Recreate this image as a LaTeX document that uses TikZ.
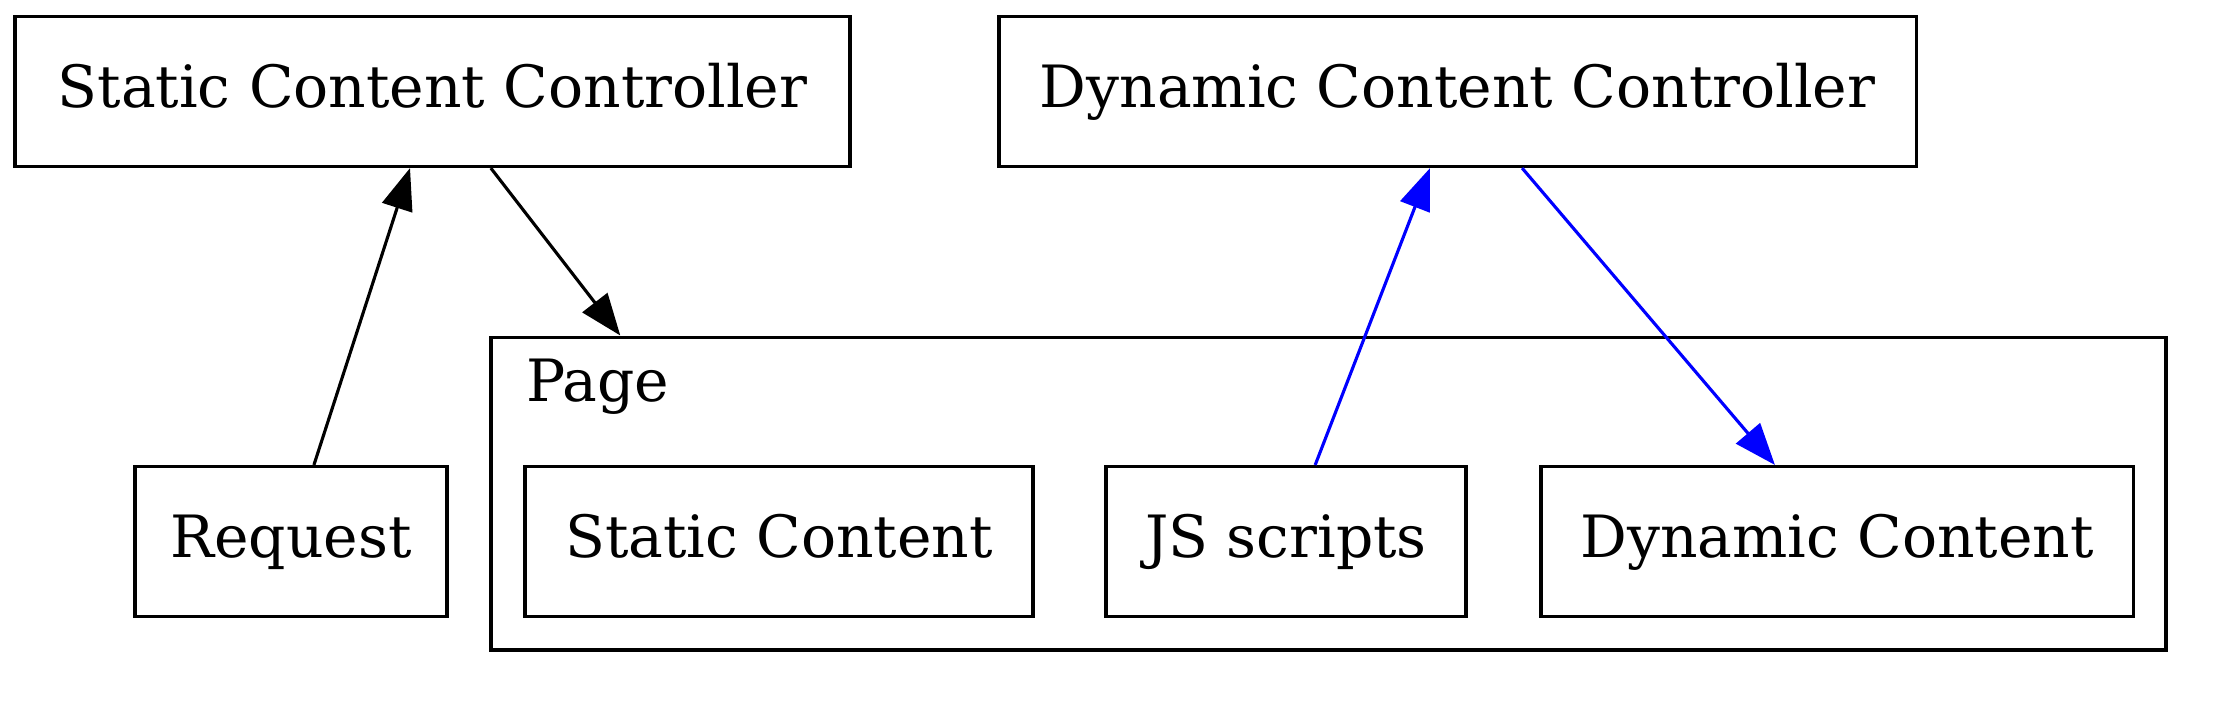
\documentclass[tikz,border=0pt]{standalone}
\usepackage{fontspec}
\setmainfont{DejaVu Serif}
\usetikzlibrary{arrows.meta,positioning}
\definecolor{edgeblue}{RGB}{0,0,255}

\begin{document}
\begin{tikzpicture}[x=0.24pt,y=-0.24pt,line width=0.75pt,line join=miter,
 every node/.style={font=\fontsize{14pt}{16pt}\selectfont},
 box/.style={draw,inner sep=0pt,minimum height=36pt,
  text height=10.9pt,text depth=3pt},
 link/.style={-{Triangle[length=10pt,width=7.5pt]}}]
 \useasboundingbox (0,0) rectangle (2217,700);
 % Controllers on top.
 \node[box,minimum width=200.4pt] (scc) at (432.5,91.5) {Static Content Controller};
 \node[box,minimum width=220.1pt] (dcc) at (1457.5,91.5) {Dynamic Content Controller};
 % Request and the Page cluster below.
 \node[box,minimum width=74.9pt] (req) at (291,541.5) {Request};
 \node[draw,inner sep=0pt,minimum width=402pt,minimum height=75.1pt]
  (page) at (1328.5,493.5) {};
 \node[anchor=base west,inner sep=0pt]
  (pagelabel) at ([xshift=8.4pt,yshift=-15.8pt]page.north west) {Page};
 \node[box,minimum width=121.9pt] (stc) at (779,541.5) {Static Content};
 \node[box,minimum width=86.4pt] (js) at (1286,541.5) {JS scripts};
 \node[box,minimum width=142.1pt] (dync) at (1837,541.5) {Dynamic Content};
 % Edges.
 \draw[link] ([xshift=5.5pt]req.north) -- ([xshift=-5.4pt]scc.south);
 \draw[link] ([xshift=14pt]scc.south) -- ([xshift=31.4pt]page.north west);
 \draw[link,edgeblue] ([xshift=7pt]js.north) -- ([xshift=-6.6pt]dcc.south);
 \draw[link,edgeblue] ([xshift=15.5pt]dcc.south) -- ([xshift=-14.9pt]dync.north);
\end{tikzpicture}
\end{document}
